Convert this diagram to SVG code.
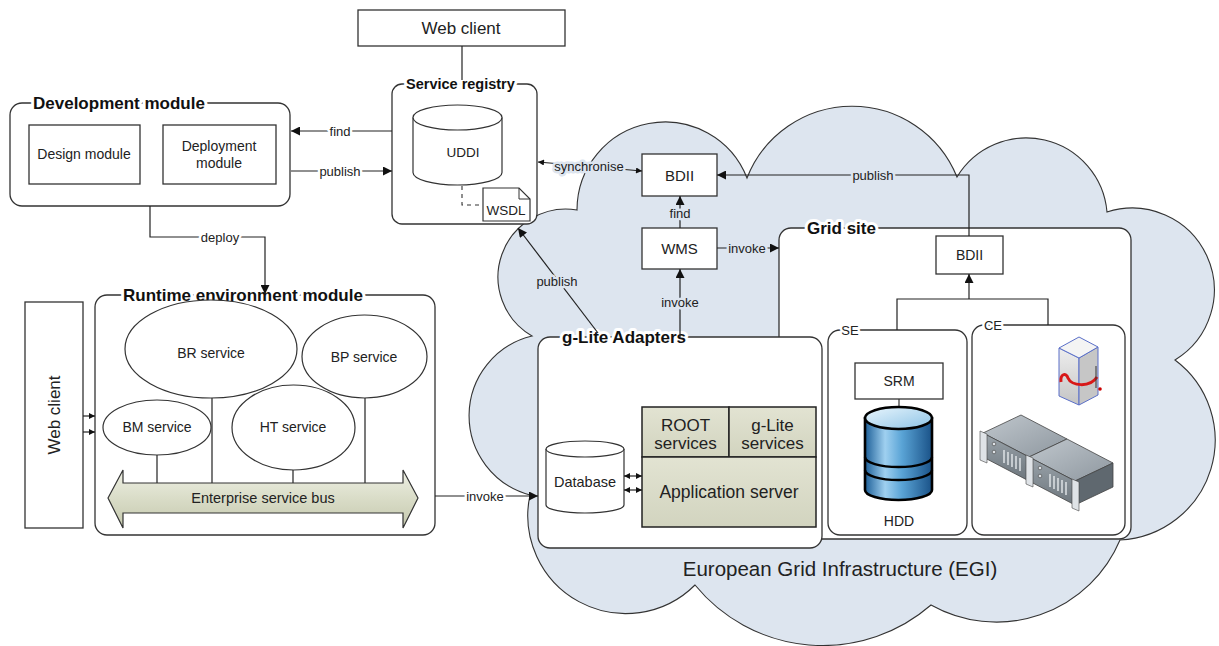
<svg xmlns="http://www.w3.org/2000/svg" width="1219" height="646" viewBox="0 0 1219 646">
  <defs>
    <style>
      .box { fill: #fff; stroke: #333; stroke-width: 1.3; }
      .t { font-family: "Liberation Sans", Arial, sans-serif; fill: #222; text-anchor: middle; dominant-baseline: central; }
      .title { font-family: "Liberation Sans", Arial, sans-serif; font-weight: bold; fill: #111; dominant-baseline: central; stroke: #fff; stroke-width: 6; stroke-linejoin: round; paint-order: stroke; }
      .lbl { font-size: 13px; stroke: #fff; stroke-width: 5; stroke-linejoin: round; paint-order: stroke; }
      .lbl.c { stroke: #dde5ef; }
      .ln { fill: none; stroke: #222; stroke-width: 1.2; }
      .olive { fill: url(#oliveGrad); stroke: #222; stroke-width: 1.5; }
    </style>
    <marker id="ah" viewBox="0 0 10 10" refX="10" refY="5" markerWidth="10" markerHeight="9" markerUnits="userSpaceOnUse" orient="auto-start-reverse">
      <path d="M0,0 L10,5 L0,10 z" fill="#111"/>
    </marker>
    <marker id="sm" viewBox="0 0 10 10" refX="10" refY="5" markerWidth="7" markerHeight="6" markerUnits="userSpaceOnUse" orient="auto-start-reverse">
      <path d="M0,0 L10,5 L0,10 z" fill="#111"/>
    </marker>
    <linearGradient id="oliveGrad" x1="0" y1="0" x2="0" y2="1">
      <stop offset="0" stop-color="#e2e3d2"/>
      <stop offset="1" stop-color="#d2d4bf"/>
    </linearGradient>
    <linearGradient id="busGrad" x1="0" y1="0" x2="0" y2="1">
      <stop offset="0" stop-color="#eef0e4"/>
      <stop offset="0.5" stop-color="#d9dcc7"/>
      <stop offset="1" stop-color="#c5c9ae"/>
    </linearGradient>
    <linearGradient id="hddBody" x1="0" y1="0" x2="1" y2="0">
      <stop offset="0" stop-color="#1d5f98"/>
      <stop offset="0.3" stop-color="#9fd0f0"/>
      <stop offset="0.55" stop-color="#5aa4d6"/>
      <stop offset="1" stop-color="#1a5288"/>
    </linearGradient>
    <linearGradient id="hddTop" x1="0" y1="0" x2="1" y2="1">
      <stop offset="0" stop-color="#eaf6fd"/>
      <stop offset="1" stop-color="#8cc3e6"/>
    </linearGradient>
    <linearGradient id="cubeL" x1="0" y1="0" x2="0" y2="1">
      <stop offset="0" stop-color="#eeeeee"/>
      <stop offset="1" stop-color="#c4c4c4"/>
    </linearGradient>
    <linearGradient id="srvTop" x1="0" y1="0" x2="1" y2="1">
      <stop offset="0" stop-color="#c0c7cd"/>
      <stop offset="1" stop-color="#8e979f"/>
    </linearGradient>
    <linearGradient id="srvFront" x1="0" y1="0" x2="0" y2="1">
      <stop offset="0" stop-color="#9aa3aa"/>
      <stop offset="1" stop-color="#6d767d"/>
    </linearGradient>
  </defs>

  <rect x="0" y="0" width="1219" height="646" fill="#fff"/>

  <!-- EGI cloud -->
  <g id="egi-cloud">
    <path d="M577,210 A88,88 0 0 1 747,178 A113,113 0 0 1 957,177 A81,81 0 0 1 1107,212 A82,82 0 0 1 1175,360 A100,100 0 0 1 1120,540 A134,134 0 0 1 931,605 A165,165 0 0 1 695,585 A98,98 0 0 1 530,495 A82,82 0 0 1 532,336 A68,68 0 0 1 577,210 Z" fill="#dde5ef" stroke="#333" stroke-width="1.1"/>
    <text class="t" x="840" y="568" font-size="20.5">European Grid Infrastructure (EGI)</text>
  </g>

  <!-- Web client (top) -->
  <g id="web-client-top">
    <rect class="box" x="358" y="10" width="207" height="36"/>
    <text class="t" x="461" y="28" font-size="17">Web client</text>
  </g>

  <!-- Development module -->
  <g id="development-module">
    <rect class="box" x="10" y="103" width="280" height="103" rx="12"/>
    <text class="title" x="33" y="103" font-size="17">Development module</text>
    <rect class="box" x="29" y="125" width="111" height="59"/>
    <text class="t" x="84" y="154" font-size="14">Design module</text>
    <rect class="box" x="163" y="125" width="113" height="59"/>
    <text class="t" x="219" y="146" font-size="14">Deployment</text>
    <text class="t" x="219" y="163" font-size="14">module</text>
  </g>

  <!-- Service registry -->
  <g id="service-registry">
    <rect class="box" x="392" y="84" width="145" height="140" rx="10"/>
    <text class="title" x="406" y="84" font-size="14.5">Service registry</text>
    <path d="M413,117.5 V172.5 A44.5,12.5 0 0 0 502,172.5 V117.5" fill="#fff" stroke="#333" stroke-width="1.2"/>
    <ellipse cx="457.5" cy="117.5" rx="44.5" ry="12.5" fill="#fff" stroke="#333" stroke-width="1.2"/>
    <text class="t" x="463" y="152" font-size="13.5">UDDI</text>
    <path d="M462,186 V205 H482" fill="none" stroke="#333" stroke-width="1.1" stroke-dasharray="4,4"/>
    <path d="M483,188 H519 L530,199 V221 H483 Z" fill="#fff" stroke="#333" stroke-width="1.2"/>
    <path d="M519,188 V199 H530" fill="none" stroke="#333" stroke-width="1"/>
    <text class="t" x="506" y="210" font-size="13.5">WSDL</text>
  </g>

  <!-- Web client (left) -->
  <g id="web-client-left">
    <rect class="box" x="25" y="302" width="58" height="226"/>
    <text class="t" x="0" y="0" font-size="17" transform="translate(54,415) rotate(-90)">Web client</text>
  </g>

  <!-- Runtime environment module -->
  <g id="runtime-module">
    <rect class="box" x="95" y="295" width="340" height="240" rx="12"/>
    <text class="title" x="123" y="295" font-size="17">Runtime environment module</text>
    <path d="M157,455 V483 M212,398 V483 M293,470 V483 M365,398 V483" class="ln"/>
    <ellipse cx="211" cy="349" rx="86" ry="49" fill="#fff" stroke="#333" stroke-width="1.2"/>
    <text class="t" x="211" y="353" font-size="14">BR service</text>
    <ellipse cx="364.5" cy="356.5" rx="62.5" ry="41.5" fill="#fff" stroke="#333" stroke-width="1.2"/>
    <text class="t" x="364" y="357" font-size="14">BP service</text>
    <ellipse cx="157" cy="427.5" rx="54" ry="27.5" fill="#fff" stroke="#333" stroke-width="1.2"/>
    <text class="t" x="157" y="427" font-size="14">BM service</text>
    <ellipse cx="293.5" cy="427.5" rx="61.5" ry="42.5" fill="#fff" stroke="#333" stroke-width="1.2"/>
    <text class="t" x="293" y="427" font-size="14">HT service</text>
    <polygon points="108,498 123,470 123,483 403,483 403,470 418,498 403,528 403,513 123,513 123,528" fill="url(#busGrad)" stroke="#333" stroke-width="1.2"/>
    <text class="t" x="263" y="498" font-size="14.5">Enterprise service bus</text>
  </g>

  <!-- Top-level BDII and WMS -->
  <g id="bdii-top">
    <rect class="box" x="642" y="154" width="75" height="42"/>
    <text class="t" x="679.5" y="175" font-size="15">BDII</text>
  </g>
  <g id="wms">
    <rect class="box" x="642" y="228" width="75" height="41"/>
    <text class="t" x="679.5" y="248.5" font-size="15">WMS</text>
  </g>

  <!-- Grid site -->
  <g id="grid-site">
    <rect class="box" x="779" y="228" width="352" height="311" rx="12"/>
    <text class="title" x="807" y="228" font-size="17">Grid site</text>
    <rect class="box" x="936" y="236" width="67" height="38"/>
    <text class="t" x="969.5" y="255" font-size="14">BDII</text>
  </g>

  <!-- Storage element -->
  <g id="se">
    <rect class="box" x="828" y="330" width="139" height="205" rx="12"/>
    <text class="t lbl" x="850" y="330" font-size="13">SE</text>
    <rect class="box" x="855" y="363" width="88" height="36"/>
    <text class="t" x="899" y="381" font-size="14">SRM</text>
    <line x1="899" y1="399" x2="899" y2="408" stroke="#333" stroke-width="1.2"/>
    <path d="M865,418 V490 A33.5,10 0 0 0 932,490 V418 Z" fill="url(#hddBody)" stroke="#000" stroke-width="2.6"/>
    <path d="M865,457 A33.5,10 0 0 0 932,457 M865,470 A33.5,10 0 0 0 932,470" fill="none" stroke="#000" stroke-width="2.4"/>
    <ellipse cx="898.5" cy="418" rx="33.5" ry="11" fill="url(#hddTop)" stroke="#000" stroke-width="2.6"/>
    <text class="t" x="899" y="521" font-size="14">HDD</text>
  </g>

  <!-- Computing element -->
  <g id="ce">
    <rect class="box" x="972" y="325" width="153" height="210" rx="12"/>
    <text class="t lbl" x="993" y="325" font-size="13">CE</text>
    <!-- cluster head node -->
    <path d="M1059,348 L1079,358 L1079,405 L1059,396 Z" fill="url(#cubeL)" stroke="#5a6fc8" stroke-width="1"/>
    <path d="M1079,358 L1098,347 L1098,395 L1079,405 Z" fill="#c6c6c6" stroke="#5a6fc8" stroke-width="1"/>
    <path d="M1079,337 L1098,347 L1079,358 L1059,348 Z" fill="#f4f4f4" stroke="#5a6fc8" stroke-width="1"/>
    <path d="M1061,382 C1060,374 1066,372 1068,378 C1071,386 1090,388 1097,377" fill="none" stroke="#d81818" stroke-width="3"/>
    <path d="M1096,366 V388" stroke="#333" stroke-width="1"/>
    <circle cx="1100" cy="389" r="1.8" fill="#c00"/>
    <!-- rack servers -->
    <path d="M983,433 L1021,415 L1067,439 L1029,457 Z" fill="url(#srvTop)" stroke="#444" stroke-width="0.8"/>
    <path d="M983,433 L1029,457 L1029,481 L983,457 Z" fill="url(#srvFront)" stroke="#444" stroke-width="0.8"/>
    <path d="M1029,457 L1067,439 L1113,463 L1075,481 Z" fill="url(#srvTop)" stroke="#444" stroke-width="0.8"/>
    <path d="M1029,457 L1075,481 L1075,505 L1029,481 Z" fill="url(#srvFront)" stroke="#444" stroke-width="0.8"/>
    <path d="M1075,481 L1113,463 L1113,487 L1075,505 Z" fill="#5f686f" stroke="#444" stroke-width="0.8"/>
    <g stroke="#e4e8ec" stroke-width="1.4">
      <path d="M1004,450 V463 M1008,452 V465 M1012,454 V467 M1016,456 V469 M1020,458 V471"/>
      <path d="M1050,474 V487 M1054,476 V489 M1058,478 V491 M1062,480 V493 M1066,482 V495"/>
    </g>
    <g fill="#dfe3e7" stroke="#444" stroke-width="0.6">
      <circle cx="994" cy="444" r="1.8"/>
      <circle cx="994" cy="452" r="1.8"/>
      <circle cx="1040" cy="468" r="1.8"/>
      <circle cx="1040" cy="476" r="1.8"/>
      <path d="M980,431 L987,434 L987,463 L980,460 Z"/>
      <path d="M1026,455 L1033,458 L1033,487 L1026,484 Z"/>
      <path d="M1072,479 L1079,482 L1079,511 L1072,508 Z"/>
    </g>
  </g>

  <!-- g-Lite Adapters -->
  <g id="glite-adapters">
    <rect class="box" x="538" y="337" width="284" height="211" rx="12"/>
    <text class="title" x="562" y="337" font-size="17">g-Lite Adapters</text>
    <path d="M546,449 V505 A39,8 0 0 0 624,505 V449" fill="#fff" stroke="#333" stroke-width="1.2"/>
    <ellipse cx="585" cy="449" rx="39" ry="8" fill="#fff" stroke="#333" stroke-width="1.2"/>
    <text class="t" x="585" y="482" font-size="14.5">Database</text>
    <rect class="olive" x="642" y="407" width="87" height="50"/>
    <rect class="olive" x="729" y="407" width="87" height="50"/>
    <rect class="olive" x="642" y="457" width="174" height="70"/>
    <text class="t" x="685.5" y="425" font-size="17">ROOT</text>
    <text class="t" x="685.5" y="443" font-size="17">services</text>
    <text class="t" x="772.5" y="425" font-size="17">g-Lite</text>
    <text class="t" x="772.5" y="443" font-size="17">services</text>
    <text class="t" x="729" y="492" font-size="17.5">Application server</text>
  </g>

  <!-- Connectors -->
  <g id="connectors">
    <line class="ln" x1="462" y1="46" x2="462" y2="80"/>
    <line class="ln" x1="392" y1="131" x2="291" y2="131" marker-end="url(#ah)"/>
    <line class="ln" x1="291" y1="171" x2="392" y2="171" marker-end="url(#ah)"/>
    <path class="ln" d="M150,206 V237 H265 V294" marker-end="url(#ah)"/>
    <line class="ln" x1="83" y1="416" x2="95" y2="416" marker-end="url(#sm)"/>
    <line class="ln" x1="83" y1="432" x2="95" y2="432" marker-end="url(#sm)"/>
    <line class="ln" x1="435" y1="496" x2="538" y2="496" marker-end="url(#ah)"/>
    <line class="ln" x1="642" y1="171" x2="538" y2="162" stroke-width="1" marker-start="url(#sm)" marker-end="url(#sm)"/>
    <line class="ln" x1="680" y1="228" x2="680" y2="196" marker-end="url(#ah)"/>
    <line class="ln" x1="680" y1="337" x2="680" y2="269" marker-end="url(#ah)"/>
    <line class="ln" x1="717" y1="248" x2="779" y2="248" marker-end="url(#ah)"/>
    <line class="ln" x1="598" y1="333" x2="518" y2="228" marker-end="url(#ah)"/>
    <path class="ln" d="M969,236 V175 H717" marker-end="url(#ah)"/>
    <path class="ln" d="M897,330 V299 H1048 V325"/>
    <line class="ln" x1="969" y1="299" x2="969" y2="274" marker-end="url(#ah)"/>
    <line class="ln" x1="624" y1="476" x2="642" y2="476" stroke-width="1" marker-start="url(#sm)" marker-end="url(#sm)"/>
    <line class="ln" x1="624" y1="490" x2="642" y2="490" stroke-width="1" marker-start="url(#sm)" marker-end="url(#sm)"/>

    <text class="t lbl" x="340" y="131">find</text>
    <text class="t lbl" x="340" y="171">publish</text>
    <text class="t lbl" x="220" y="237">deploy</text>
    <text class="t lbl" x="485" y="496">invoke</text>
    <text class="t lbl c" x="589" y="166">synchronise</text>
    <text class="t lbl c" x="680" y="213">find</text>
    <text class="t lbl c" x="680" y="302">invoke</text>
    <text class="t lbl c" x="747" y="248">invoke</text>
    <text class="t lbl c" x="557" y="281">publish</text>
    <text class="t lbl c" x="873" y="175">publish</text>
  </g>
</svg>
